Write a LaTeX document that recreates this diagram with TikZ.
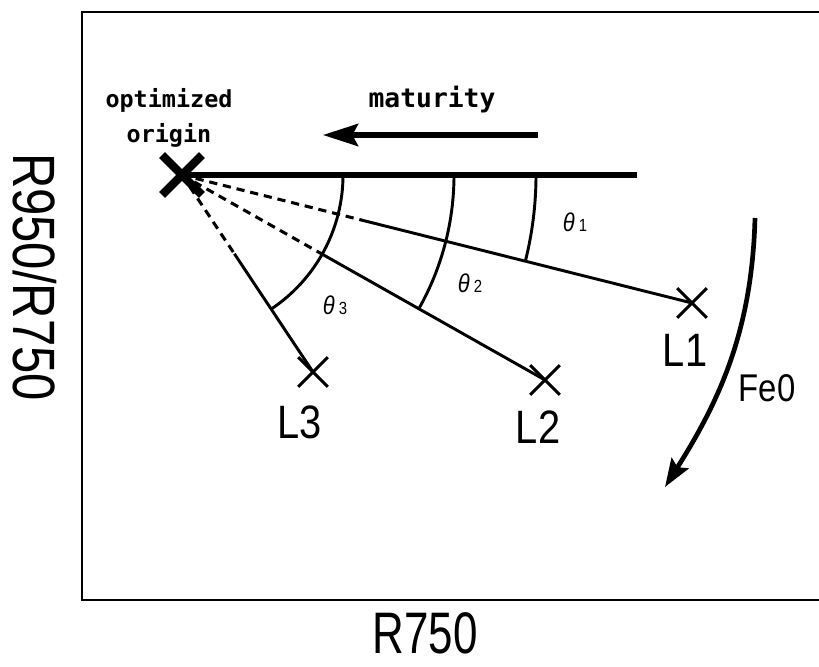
\documentclass[tikz,border=0pt]{standalone}
\usepackage{fontspec}
\setmainfont{Liberation Sans}
\newfontfamily\labelsans[FakeStretch=0.85]{Liberation Sans}
\newfontfamily\condsans[FakeStretch=0.82]{Liberation Sans}
\newfontfamily\narrowsans[FakeStretch=0.75]{Liberation Sans}
\newfontfamily\notefont{DejaVu Sans Mono}
\usetikzlibrary{positioning,arrows.meta,calc,shapes.misc}

\begin{document}
\begin{tikzpicture}[
  x=0.03cm, y=-0.03cm,
  frame/.style={line width=1.7pt},
  omark/.style={cross out, draw, line width=7pt, minimum size=0.95cm, inner sep=0pt},
  xmark/.style={cross out, draw, line width=2.5pt, minimum size=0.8cm, inner sep=0pt},
  baseln/.style={line width=5pt},
  guide/.style={line width=2.6pt, dash pattern=on 7pt off 5pt},
  lead/.style={line width=2.5pt},
  angarc/.style={line width=2.5pt},
  bigar/.style={-{Stealth[length=30pt,width=19pt,inset=5pt]}, line width=4.3pt},
  fear/.style={-{Stealth[length=24pt,width=17pt,inset=4pt]}, line width=4pt},
  ptlbl/.style={font=\labelsans\fontsize{40}{44}\selectfont},
  anglbl/.style={font=\labelsans\fontsize{22}{24}\selectfont},
  note/.style={font=\notefont\bfseries\fontsize{20}{30}\selectfont, align=center}
]
\useasboundingbox (0,0) rectangle (819,666);
\draw[frame] (819,12) -- (82,12) -- (82,600) -- (819,600);

\node[font=\condsans\fontsize{51}{54}\selectfont, rotate=-90] (ylbl) at (35,277) {R950/R750};
\node[font=\narrowsans\fontsize{50}{54}\selectfont, inner sep=0pt] (xlbl) at (425,633) {R750};

\node[omark] (o) at (182,175) {};
\node[xmark] (l1) at (692,303) {};
\node[xmark] (l2) at (545,380) {};
\node[xmark] (l3) at (313,372) {};
\coordinate (hend) at (637,175);

\draw[baseln] (o.center) -- (hend);

\draw[guide] (o.center) -- ($(o.center)!0.355!(l1.center)$) coordinate (s1);
\draw[lead] (s1) -- (l1.center);
\draw[guide] (o.center) -- ($(o.center)!0.39!(l2.center)$) coordinate (s2);
\draw[lead] (s2) -- (l2.center);
\draw[guide] (o.center) -- ($(o.center)!0.40!(l3.center)$) coordinate (s3);
\draw[lead] (s3) -- (l3.center);

\draw[angarc] ($(o.center)+(354,0)$) arc[start angle=0, end angle=-14.1, radius=10.62cm];
\draw[angarc] ($(o.center)+(272,0)$) arc[start angle=0, end angle=-29.5, radius=8.16cm];
\draw[angarc] ($(o.center)+(161,0)$) arc[start angle=0, end angle=-56.4, radius=4.83cm];

\node[anglbl] (t1) at (575,222) {\itshape θ\,\upshape\fontsize{15}{16}\selectfont 1};
\node[anglbl] (t2) at (470,283) {\itshape θ\,\upshape\fontsize{15}{16}\selectfont 2};
\node[anglbl] (t3) at (335,305) {\itshape θ\,\upshape\fontsize{15}{16}\selectfont 3};

\node[ptlbl] (l1lbl) at (685,350) {L1};
\node[ptlbl] (l2lbl) at (538,427) {L2};
\node[ptlbl] (l3lbl) at (300,422) {L3};

\node[note] (orig) at (169,118) {optimized\\origin};
\node[note, font=\notefont\bfseries\fontsize{22.5}{26}\selectfont] (mat) at (432,100) {maturity};
\coordinate (ma) at (538,135);
\coordinate (mb) at (323,135);
\draw[bigar] (ma) -- (mb);

\coordinate (fa) at (755,218);
\coordinate (fb) at (665,487);
\draw[fear] (fa) .. controls (752,330) and (720,400) .. (fb);
\node[ptlbl, font=\labelsans\fontsize{33}{36}\selectfont] (fe) at (767,388) {Fe0};

\end{tikzpicture}
\end{document}
